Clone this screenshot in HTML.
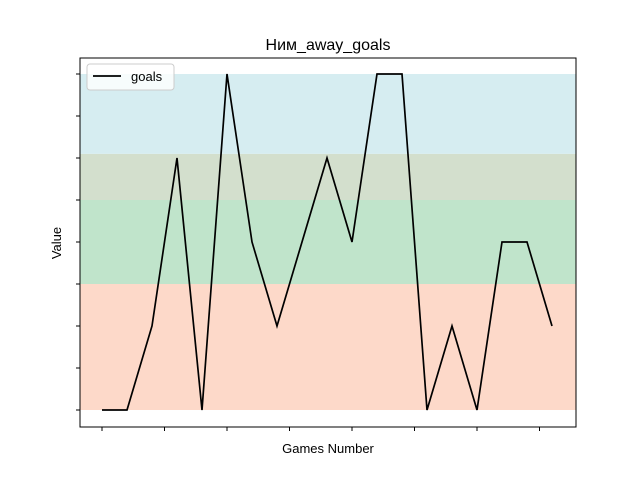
<!DOCTYPE html>
<html><head><meta charset="utf-8"><style>
body{margin:0;background:#fff;}
svg{font-family:"Liberation Sans","DejaVu Sans",sans-serif;}
</style></head><body>
<svg width="640" height="480" viewBox="0 0 640 480">
<rect width="640" height="480" fill="#fff"/>
<g id="bands"></g>
<g id="series"></g>
<rect x="80" y="58" width="496" height="369" fill="none" stroke="#000" stroke-width="1"/>
<g id="ticks"></g>
<text x="328" y="50" font-size="16" text-anchor="middle">Ним_away_goals</text>
<text x="328" y="453" font-size="13" text-anchor="middle">Games Number</text>
<text x="61" y="243" font-size="13" text-anchor="middle" transform="rotate(-90 61 243)">Value</text>
<g>
<rect x="87" y="64" width="87" height="26" rx="3" fill="#fff" fill-opacity="0.8" stroke="#ccc"/>
<line x1="93" y1="76" x2="121" y2="76" stroke="#000" stroke-width="1.7"/>
<text x="131" y="81" font-size="13">goals</text>
</g>
</svg>
<script>
const goals = [0,0,1,3,0,4,2,1,2,3,2,4,4,0,1,0,2,2,1];
const bandLows = [0,1.5,2.5,3.05];
const bandHighs = [1.5,2.5,3.05,4];
const bandColors = ['#fdd9c9','#c0e4cb','#d3dfcd','#d6edf1'];
const yTicks = [0,0.5,1,1.5,2,2.5,3,3.5,4];
const xTicks = [0,2.5,5,7.5,10,12.5,15,17.5];
const NS='http://www.w3.org/2000/svg';
const sx = i => 102 + i*25;
const sy = v => 410 - v*84;
const bands=document.getElementById('bands');
bandLows.forEach((lo,k)=>{
  const r=document.createElementNS(NS,'rect');
  r.setAttribute('x',80);r.setAttribute('width',496);
  r.setAttribute('y',sy(bandHighs[k]));r.setAttribute('height',sy(lo)-sy(bandHighs[k]));
  r.setAttribute('fill',bandColors[k]);
  
  
  bands.appendChild(r);
});
const p=document.createElementNS(NS,'polyline');
p.setAttribute('points',goals.map((v,i)=>sx(i)+','+sy(v)).join(' '));
p.setAttribute('fill','none');p.setAttribute('stroke','#000');p.setAttribute('stroke-width','1.7');


document.getElementById('series').appendChild(p);
const t=document.getElementById('ticks');
yTicks.forEach(v=>{
  const l=document.createElementNS(NS,'line');
  l.setAttribute('x1',76);l.setAttribute('x2',80);l.setAttribute('y1',sy(v));l.setAttribute('y2',sy(v));
  l.setAttribute('stroke','#000');
  
  
  t.appendChild(l);
});
xTicks.forEach(v=>{
  const l=document.createElementNS(NS,'line');
  l.setAttribute('y1',427);l.setAttribute('y2',431);l.setAttribute('x1',sx(v));l.setAttribute('x2',sx(v));
  l.setAttribute('stroke','#000');
  
  
  t.appendChild(l);
});
</script>
</body></html>
